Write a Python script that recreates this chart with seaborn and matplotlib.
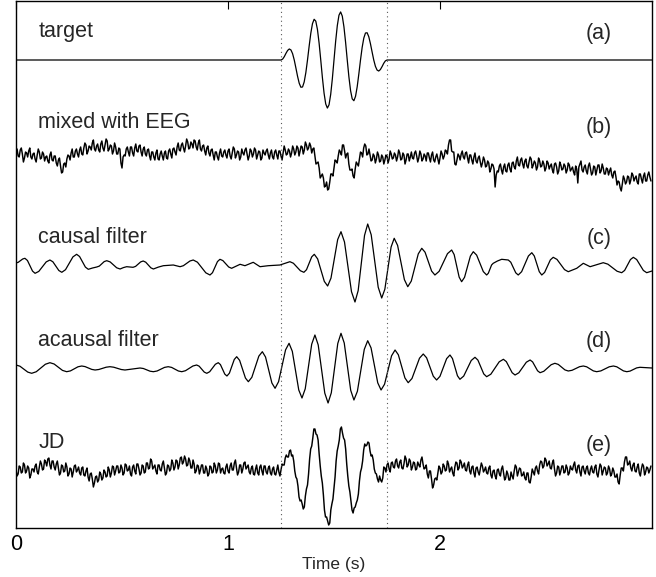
import numpy as np
import pandas as pd
import matplotlib
matplotlib.use("Agg")
import matplotlib.pyplot as plt
import seaborn as sns

# ---------------- data ----------------
# (a) target: windowed burst between 1.25 s and 1.75 s (normalised amplitude)
target_window = (1.25, 1.75)
target_vals = [0, 0.019, 0.069, 0.136, 0.195, 0.225, 0.205, 0.129, 0,
               -0.164, -0.333, -0.475, -0.556, -0.551, -0.448, -0.257, 0,
               0.284, 0.547, 0.742, 0.831, 0.793, 0.624, 0.346, 0,
               -0.361, -0.677, -0.896, -0.981, -0.914, -0.703, -0.383, 0,
               0.383, 0.703, 0.914, 0.981, 0.896, 0.677, 0.361, 0,
               -0.346, -0.624, -0.793, -0.831, -0.742, -0.547, -0.284, 0,
               0.257, 0.448, 0.551, 0.556, 0.475, 0.333, 0.164, 0,
               -0.129, -0.205, -0.225, -0.195, -0.136, -0.069, -0.019, 0]

# (b) mixed with EEG, sampled every 5 ms from 0 s
mixed_vals = [
    5, 8, 1, 0, 7, 9, 3, -5, -1, 5, 4, 0, 6, 9, 0, -2, 3, 4, -2, -5,
    2, 8, 5, -2, -1, 5, 3, -4, 0, 1, -4, -6, 2, 5, -3, -4, 1, 1, -6, -9,
    -3, -1, -9, -16, -15, -7, -6, -10, -2, 2, 1, -3, 4, 8, 0, 0, 6, 8, 3, 0,
    7, 10, 3, 2, 9, 14, 12, 3, 6, 11, 10, 7, 14, 17, 8, 6, 11, 13, 7, 5,
    13, 16, 9, 6, 12, 18, 16, 6, 8, 12, 11, 3, 6, 14, 10, 3, 3, 9, 8, -6,
    -11, 0, 2, 1, 8, 10, 5, 1, 10, 10, 4, 1, 9, 13, 6, 5, 11, 12, 5, 1,
    8, 10, 3, 1, 7, 8, 1, -3, 5, 5, 0, -3, 4, 7, -2, -3, 3, 6, 1, -3,
    4, 6, -1, -2, 6, 8, 3, -1, 8, 9, 5, 2, 10, 14, 7, 6, 12, 14, 9, 5,
    11, 18, 15, 8, 9, 15, 13, 9, 17, 16, 10, 7, 14, 17, 8, 6, 11, 12, 6, 2,
    9, 11, 4, 1, 7, 8, 2, -3, 5, 5, 0, -3, 4, 8, 1, 0, 5, 7, 2, -1,
    6, 8, 1, -2, 4, 10, 8, -1, 2, 6, 5, -3, 0, 8, 4, 2, 7, 9, 3, -3,
    1, 8, 6, 0, 3, 9, 7, -2, 2, 6, 5, -3, -1, 7, 4, 2, 6, 8, 2, -2,
    4, 7, 0, -2, 5, 7, 2, -2, 6, 6, 1, -3, 4, 11, 7, 2, 3, 8, 6, 0,
    4, 11, 8, 2, 5, 11, 9, 1, 6, 11, 10, 3, 7, 15, 12, 7, 9, 14, 11, 4,
    8, 9, 1, -7, -6, -5, -11, -21, -19, -17, -21, -30, -29, -25, -33, -32, -25, -17, -17, -19,
    -11, -3, -4, -6, 1, 7, 5, 2, 12, 12, 6, -1, 3, 4, -7, -13, -13, -12, -19, -21,
    -12, -5, -7, -9, -2, 5, 4, 0, 9, 13, 11, 2, 3, 8, 2, -4, -3, 3, 1, -6,
    -2, 5, 2, -5, -4, 2, 0, -7, -3, 2, 1, -6, -2, 6, 3, -2, -1, 4, 2, -4,
    0, 7, 4, -3, -2, 4, 2, -7, -3, 3, 3, -4, 0, 5, -1, -2, 4, 6, 1, -5,
    -1, 6, 3, -4, -2, 3, 1, -4, 4, 4, -1, -5, 2, 5, -3, -5, 0, 3, -2, -7,
    -1, 6, 3, -2, 1, 7, 6, 3, 12, 17, 17, 6, 5, 5, -7, -8, -3, 3, 1, -3,
    3, 6, 0, -2, 4, 5, -1, -6, 2, 2, -3, -7, 0, 4, -4, -6, -1, 1, -5, -10,
    -6, 0, -3, -10, -9, -4, -6, -15, -12, -7, -8, -12, -30, -18, -14, -15, -9, -7, -13, -17,
    -10, -7, -14, -15, -8, -6, -12, -15, -6, -5, -10, -12, -4, 0, -8, -9, -3, -1, -7, -11,
    -4, -2, -9, -11, -5, 0, -2, -11, -8, -4, -6, -13, -10, -1, -4, -10, -9, -4, -7, -14,
    -11, -4, -6, -12, -9, -7, -13, -16, -7, -6, -10, -17, -14, -5, -8, -13, -12, -7, -9, -16,
    -13, -6, -8, -14, -12, -10, -15, -18, -9, -12, -26, -10, -7, -4, -13, -15, -10, -8, -14, -17,
    -9, -6, -12, -18, -16, -9, -10, -18, -13, -8, -8, -16, -14, -7, -11, -17, -17, -11, -12, -18,
    -14, -11, -18, -21, -15, -14, -20, -28, -24, -25, -31, -34, -27, -19, -22, -27, -25, -19, -20, -27,
    -23, -16, -18, -24, -21, -19, -25, -27, -17, -17, -22, -26, -19, -16, -24, -24, -18, -15, -20, -24]

# (c) causal filter output
causal_t = [0.000, 0.0105, 0.021, 0.0315, 0.042, 0.054, 0.066, 0.078, 0.090, 0.1075,
            0.125, 0.1425, 0.160, 0.174, 0.188, 0.202, 0.216, 0.2335, 0.251, 0.2685,
            0.286, 0.2998, 0.3135, 0.3273, 0.341, 0.361, 0.381, 0.393, 0.4045, 0.416,
            0.428, 0.444, 0.4595, 0.475, 0.491, 0.5065, 0.522, 0.552, 0.564, 0.576,
            0.588, 0.600, 0.612, 0.624, 0.636, 0.648, 0.6715, 0.695, 0.742, 0.774,
            0.7895, 0.805, 0.8205, 0.836, 0.8558, 0.8755, 0.8953, 0.915, 0.9268, 0.9385,
            0.9503, 0.962, 0.9758, 0.9895, 1.0033, 1.017, 1.037, 1.057, 1.080, 1.0995,
            1.119, 1.135, 1.151, 1.190, 1.245, 1.2685, 1.292, 1.3085, 1.325, 1.3415,
            1.358, 1.3703, 1.3825, 1.3948, 1.407, 1.4228, 1.4385, 1.4543, 1.470, 1.4858,
            1.5015, 1.5173, 1.533, 1.5495, 1.566, 1.5825, 1.599, 1.614, 1.629, 1.644,
            1.659, 1.6755, 1.692, 1.7085, 1.725, 1.7398, 1.7545, 1.7693, 1.784, 1.800,
            1.816, 1.832, 1.848, 1.8645, 1.881, 1.8975, 1.914, 1.9295, 1.945, 1.9605,
            1.976, 1.9958, 2.0155, 2.0353, 2.055, 2.0668, 2.0785, 2.0903, 2.102, 2.1158,
            2.1295, 2.1433, 2.157, 2.1728, 2.1885, 2.2043, 2.220, 2.2278, 2.2355, 2.2433,
            2.251, 2.271, 2.291, 2.322, 2.3338, 2.3455, 2.3573, 2.369, 2.385, 2.401,
            2.417, 2.433, 2.4448, 2.4565, 2.4683, 2.480, 2.4935, 2.507, 2.5205, 2.534,
            2.5518, 2.5695, 2.5873, 2.605, 2.625, 2.645, 2.6605, 2.676, 2.692, 2.708,
            2.739, 2.770, 2.7918, 2.8135, 2.8353, 2.857, 2.8708, 2.8845, 2.8983, 2.912,
            2.9278, 2.9435, 2.9593, 2.975, 3.0]
causal_v = [2, 2.7, 4.35, 6.0, 6.7, 4.5, -0.8, -6.1, -8.3, -6.4,
            -1.65, 3.1, 5, 3.2, -1.15, -5.5, -7.3, -4.7, 1.7, 8.1,
            10.7, 8.5, 3.2, -2.1, -4.3, -3.0, -2, -1.1, 1.15, 3.4,
            4.3, 3.1, 0.15, -2.8, -4, -2.6, -1.7, -2.3, -1.4, 0.85,
            3.1, 4, 2.8, 0, -2.8, -4, -2.1, -0.7, 0, -1.7,
            -0.7, 1.65, 4.0, 5, 2.8, -2.5, -7.8, -10, -7.7, -2.15,
            3.4, 5.7, 4.4, 1.2, -2.0, -3.3, -1.3, 0.7, -0.7, 1.0,
            2.7, 0.5, -1.7, -0.7, 0, 1.65, 3.3, 1.75, -2.0, -5.75,
            -7.3, -4.7, 1.7, 8.1, 10.7, 6.1, -5.15, -16.4, -21, -13.1,
            6.15, 25.4, 33.3, 23.0, -1.85, -26.7, -37, -25.6, 2.0, 29.6,
            41, 30.2, 4.0, -22.2, -33, -24.3, -3.15, 18.0, 26.7, 19.6,
            2.5, -14.6, -21.7, -16.1, -2.5, 11.1, 16.7, 12.8, 3.35, -6.1,
            -10, -6.35, 2.5, 11.35, 15, 10.4, -0.85, -12.1, -16.7, -12.3,
            -1.7, 8.9, 13.3, 9.9, 1.65, -6.6, -10, -8.3, -4.15, 0.0,
            1.7, 4.0, 5.7, 5, 2.8, -2.5, -7.8, -10, -6.7, 1.15,
            9.0, 12.3, 9.0, 1.15, -6.7, -10, -7.4, -1.15, 5.1, 7.7,
            5.6, 0.5, -4.6, -6.7, -5.0, -3.3, -0.8, 1.7, 0, -1.7,
            0.3, 2.3, 0.84, -2.7, -6.24, -7.7, -5.45, 0, 5.45, 7.7,
            5.45, 0, -5.45, -7.7, -6]

# (d) acausal filter output
acausal_t = [0.0, 0.0185, 0.037, 0.0555, 0.074, 0.0955, 0.117, 0.1385, 0.160, 0.1798,
             0.1995, 0.2193, 0.239, 0.2568, 0.2745, 0.2923, 0.310, 0.3258, 0.3415, 0.3573,
             0.373, 0.3905, 0.408, 0.4255, 0.443, 0.4608, 0.4785, 0.4963, 0.514, 0.5495,
             0.585, 0.6008, 0.6165, 0.6323, 0.648, 0.6655, 0.683, 0.7005, 0.718, 0.734,
             0.750, 0.766, 0.782, 0.7995, 0.817, 0.8345, 0.852, 0.864, 0.876, 0.888,
             0.900, 0.9135, 0.927, 0.9405, 0.954, 0.9643, 0.9745, 0.9848, 0.995, 1.0065,
             1.018, 1.0295, 1.041, 1.0548, 1.0685, 1.0823, 1.096, 1.1125, 1.129, 1.1455,
             1.162, 1.177, 1.192, 1.207, 1.222, 1.2385, 1.255, 1.2715, 1.288, 1.3033,
             1.3185, 1.3338, 1.349, 1.3643, 1.3795, 1.3948, 1.410, 1.4255, 1.441, 1.4565,
             1.472, 1.4873, 1.5025, 1.5178, 1.533, 1.5483, 1.5635, 1.5788, 1.594, 1.6103,
             1.6265, 1.6428, 1.659, 1.6748, 1.6905, 1.7063, 1.722, 1.7385, 1.755, 1.7715,
             1.788, 1.8035, 1.819, 1.8345, 1.850, 1.8678, 1.8855, 1.9033, 1.921, 1.9368,
             1.9525, 1.9683, 1.984, 1.9998, 2.0155, 2.0313, 2.047, 2.0588, 2.0705, 2.0823,
             2.094, 2.1118, 2.1295, 2.1473, 2.165, 2.1788, 2.1925, 2.2063, 2.220, 2.2398,
             2.2595, 2.2793, 2.299, 2.3128, 2.3265, 2.3403, 2.354, 2.3718, 2.3895, 2.4073,
             2.425, 2.4368, 2.4485, 2.4603, 2.472, 2.4895, 2.507, 2.5245, 2.542, 2.5578,
             2.5735, 2.5893, 2.605, 2.6228, 2.6405, 2.6583, 2.676, 2.6918, 2.7075, 2.7233,
             2.739, 2.7588, 2.7785, 2.7983, 2.818, 2.8338, 2.8495, 2.8653, 2.881, 2.8965,
             2.912, 2.9275, 2.943, 3.0]
acausal_v = [3, 1.8, -1.15, -4.1, -5.3, -3.75, 0, 3.75, 5.3, 4.0,
             0.8, -2.4, -3.7, -2.9, -0.85, 1.2, 2, 1.4, 0, -1.4,
             -2, -1.5, -0.35, 0.8, 1.3, 0.8, -0.35, -1.5, -2, -1,
             0, -0.5, -1.85, -3.2, -3.7, -3.0, -1.2, 0.6, 1.3, 0.6,
             -1.2, -3.0, -3.7, -2.7, -0.35, 2.0, 3, 1.8, -1.15, -4.1,
             -5.3, -3.75, 0, 3.75, 5.3, 3.4, -1.35, -6.1, -8, -5.2,
             1.65, 8.5, 11.3, 7.65, -1.2, -10.05, -13.7, -9.3, 1.3, 11.9,
             16.3, 11.0, -2.0, -15.0, -20.3, -13.7, 2.2, 18.1, 24.7, 16.7,
             -2.65, -22.0, -30, -20.8, 1.5, 23.8, 33, 23.1, -1.0, -25.1,
             -35, -24.8, -0.15, 24.5, 34.7, 25.0, 1.35, -22.3, -32, -23.3,
             -2.35, 18.6, 27.3, 20.1, 2.65, -14.8, -22, -16.2, -2, 12.2,
             18, 13.2, 1.65, -9.9, -14.7, -10.5, -0.35, 9.8, 14, 10.2,
             1.0, -8.2, -12, -8.35, 0.5, 9.35, 13, 9.45, 0.85, -7.75,
             -11.3, -8.1, -0.3, 7.5, 10.7, 7.9, 1.0, -5.9, -8.7, -6.2,
             0, 6.2, 8.7, 6.4, 0.85, -4.7, -7, -4.8, 0.5, 5.8,
             8, 6.1, 1.65, -2.8, -4.7, -3.3, 0, 3.3, 4.7, 3.6,
             0.85, -1.9, -3, -2.3, -0.5, 1.3, 2, 1.2, -0.85, -2.9,
             -3.7, -2.9, -0.85, 1.2, 2, 1.2, -0.85, -2.9, -3.7, -3.1,
             -1.5, 0.1, 0.7, 0]

# (e) JD output, sampled every 5 ms from 0 s
jd_vals = [
    0, -6, -4, 4, 3, -3, -2, 7, 5, -3, -1, 4, 2, -8, -5, 1, 1, -2, 4, 6,
    -2, -4, 3, 9, 6, 0, 1, 10, 8, 4, 11, 12, 5, 1, 9, 9, 3, 0, 6, 9,
    2, -5, -3, 5, 4, -2, -1, 7, 3, -6, -4, 2, 1, -7, -2, 4, 5, -2, 0, 3,
    -3, -5, 2, 3, -5, -6, -1, 2, -7, -11, -4, -3, -9, -17, -13, -7, -6, -12, -10, -2,
    -4, -10, -8, 0, -2, -7, -6, 3, 0, -7, -3, 4, 3, -5, -1, 4, 4, -3, -2, 5,
    2, -5, -3, 6, 5, -1, 0, 4, -4, -6, 3, 5, -1, -4, 6, 6, 1, -5, -3, 5,
    4, -3, -2, 7, 7, 1, 2, 11, 9, 1, 3, 5, -1, -4, 5, 5, 0, -1, 6, 9,
    2, -5, -3, 5, 4, -1, 1, 10, 7, 0, 3, 10, 9, 1, 5, 12, 13, 6, 8, 14,
    11, 4, 5, 12, 9, 2, 2, 10, 6, -3, -1, 5, 4, -4, 0, 5, 5, -3, -3, 4,
    1, -6, -4, 4, 3, -3, -2, 7, 4, -3, 0, 7, 6, -3, 1, 2, -3, -4, 3, 6,
    -1, -3, 4, 7, 0, 0, 7, 10, 2, -5, -2, 5, 5, -3, 1, 7, 8, 1, 3, 5,
    -2, -4, 2, 4, -4, -5, 1, 5, -3, -5, 3, 5, -1, -5, 4, 4, -2, -4, 2, 4,
    -3, -5, 1, 3, -4, -5, 0, 5, -2, -6, 0, 6, 5, 5, 12, 15, 13, 13, 19, 20,
    14, 15, 9, -1, -7, -9, -16, -27, -31, -30, -34, -39, -37, -26, -19, -15, -4, 11, 21, 24,
    32, 41, 41, 36, 35, 30, 16, 4, -6, -13, -25, -40, -47, -47, -51, -55, -53, -40, -34, -29,
    -18, -7, 9, 19, 24, 30, 41, 43, 37, 32, 30, 21, 6, -6, -16, -22, -31, -40, -43, -38,
    -37, -33, -30, -24, -11, -2, 2, 9, 20, 26, 24, 25, 28, 27, 19, 14, 15, 10, 1, -3,
    -4, -9, -12, -6, -10, -12, -8, 3, 2, -2, 5, 7, 1, -2, 7, 8, 3, 2, 9, 11,
    4, 2, 8, 10, 2, 1, 6, 14, 11, 3, 5, 11, 9, 0, 3, 8, 7, 0, 1, 8,
    5, 3, 10, 13, 6, 1, 2, 5, -4, -8, -1, -1, -9, -18, -15, -9, -8, -10, -3, 4,
    2, -4, -2, 6, 4, -1, 0, 9, 6, -2, 1, 3, -3, -6, 3, 8, 7, 0, 2, 10,
    8, 2, 4, 7, 0, -1, 5, 8, -1, -4, 3, 4, -3, -7, 2, 3, -2, -5, 1, 7,
    4, -2, 0, 3, -3, -4, 2, 4, -5, -8, -1, 0, -6, -9, 0, 1, -4, -6, 1, 4,
    -3, -10, -8, -1, -4, -10, -10, -2, -6, -9, -1, 5, 3, -6, -2, 2, 1, -6, -5, -2,
    -8, -10, -3, -3, -12, -13, -7, 1, -2, -5, 2, 4, -1, -4, 5, 9, 8, 2, 4, 12,
    10, 4, 6, 9, 2, 1, 7, 10, 1, -6, -3, 4, 3, -5, -1, 4, 4, -3, -2, 5,
    2, -5, -3, 4, 1, 0, 5, 8, 0, -3, 4, 5, -2, -6, 3, 4, -1, -4, 2, 4,
    -3, -5, 1, 4, -2, -3, 3, 5, -4, -7, 0, 6, 4, -5, -1, 3, 2, -5, -3, 4,
    1, -6, -4, 2, -1, -7, -7, -4, -12, -14, -5, 2, 2, -1, 8, 13, 13, 5, 6, 9,
    2, -1, 5, 7, -1, -2, 3, 6, -3, -6, 1, 6, 4, -5, -2, 3, 2, -3, 0, 4]

noisy_rate = 200  # samples per second for (b) and (e)
labels_left = ["target", "mixed with EEG", "causal filter", "acausal filter", "JD"]
labels_right = ["(a)", "(b)", "(c)", "(d)", "(e)"]
xticks = [0, 1, 2]

# ---------------- layout / style ----------------
W, H = 656, 577
ax_left, ax_right, ax_top, ax_bottom = 16, 652, 1, 528   # pixels
baselines = [60, 157, 265, 368, 470]    # pixel rows of each trace
target_gain = 49
left_label_base = [37, 128, 243, 346, 448]
right_label_base = [39, 133, 244, 347, 451]

sns.set_style("white")
plt.rcParams["font.family"] = ["Liberation Sans", "DejaVu Sans"]

fig = plt.figure(figsize=(W / 100, H / 100), dpi=100)
ax = fig.add_axes([ax_left / W, (H - ax_bottom) / H,
                   (ax_right - ax_left) / W, (ax_bottom - ax_top) / H])

t_target = np.concatenate([[0.0], np.linspace(target_window[0], target_window[1], len(target_vals)), [3.0]])
y_target = np.concatenate([[0.0], np.array(target_vals), [0.0]]) * target_gain

traces = [
    (t_target, y_target),
    (np.arange(len(mixed_vals)) / noisy_rate, np.array(mixed_vals, dtype=float)),
    (np.array(causal_t), np.array(causal_v)),
    (np.array(acausal_t), np.array(acausal_v)),
    (np.arange(len(jd_vals)) / noisy_rate, np.array(jd_vals, dtype=float)),
]
lws = [0.9, 1.05, 0.9, 0.9, 1.05]

for i, (tt, vv) in enumerate(traces):
    df = pd.DataFrame({"t": tt, "y": vv - baselines[i]})
    sns.lineplot(data=df, x="t", y="y", ax=ax, color="black", lw=lws[i],
                 estimator=None, sort=False)

for xv in target_window:
    ax.axvline(xv, color="0.35", lw=0.8, ls=(0, (1, 3)))

for i in range(5):
    ax.text(0.105, -left_label_base[i], labels_left[i], fontsize=15.5,
            ha="left", va="baseline")
    ax.text(2.81, -right_label_base[i], labels_right[i], fontsize=15.5,
            ha="right", va="baseline")

ax.set_xlim(0, 3.0)
ax.set_ylim(-ax_bottom, -ax_top)
ax.set_xticks(xticks)
ax.set_xticklabels([str(v) for v in xticks])
ax.set_yticks([])
ax.tick_params(axis="x", direction="in", length=6, width=0.8, top=True,
               labelsize=15.5, pad=4, colors="black")
ax.set_xlabel("Time (s)", fontsize=12.5, labelpad=2)
ax.set_ylabel("")
for s in ax.spines.values():
    s.set_color("black")
    s.set_linewidth(1.0)

fig.savefig("out.png", dpi=100)
